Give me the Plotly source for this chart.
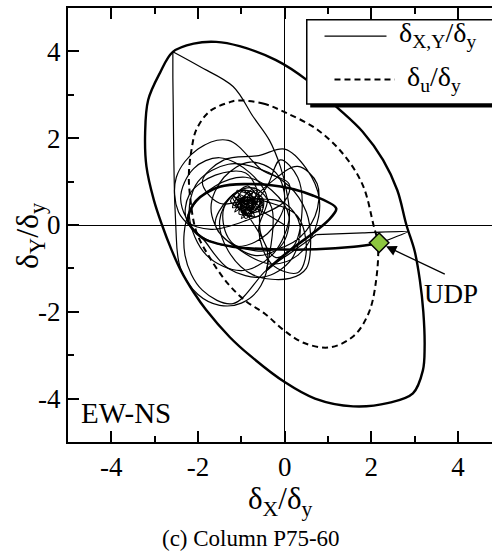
import plotly.graph_objects as go

FONT = "Liberation Serif"

# ---- data ----
# outer ultimate curve (thick solid, closed)
outer_x = [-1.58, -1.04, -0.2, 0.5, 1.19, 1.8, 2.27, 2.6, 2.81, 3.0, 3.12, 3.2, 3.23, 3.19, 2.96, 2.4, 1.58, 0.7, 0.0,
           -0.81, -1.27, -1.81, -2.1, -2.4, -2.62, -2.83, -3.02, -3.19, -3.22, -3.15, -2.88, -2.58, -2.1, -1.58]
outer_y = [4.22, 4.12, 3.8, 3.35, 2.73, 2.15, 1.5, 0.8, 0.0, -0.6, -1.27, -2.0, -2.81, -3.35, -3.88, -4.1, -4.18, -4.0,
           -3.62, -3.0, -2.58, -1.96, -1.55, -1.04, -0.55, 0.0, 0.58, 1.35, 2.12, 2.88, 3.5, 3.99, 4.18, 4.22]

# delta_u / delta_y curve (dashed, closed)
du_x = [-1.1, -0.5, 0.0, 0.75, 1.38, 1.81, 2.05, 2.15, 2.12, 1.95, 1.6, 1.04, 0.45, 0.0, -0.45, -0.9, -1.31, -1.73,
        -2.04, -2.19, -2.21, -2.15, -2.04, -1.73, -1.27, -1.1]
du_y = [2.87, 2.8, 2.6, 2.2, 1.6, 0.9, 0.0, -0.42, -1.2, -2.0, -2.55, -2.82, -2.72, -2.44, -2.05, -1.75, -1.35, -0.75,
        -0.15, 0.73, 1.19, 1.73, 2.19, 2.62, 2.83, 2.87]

# response trajectory delta_X,Y / delta_y (thin), split in pieces
# dense scribble around the centre
clu_x = [0.0, -0.5, -0.8, -1.1, -0.6, -0.95, -1.2, -0.55, -0.9, -1.05, -0.5, -0.85, -1.25, -0.7, -0.95, -1.15, -0.6,
         -0.75, -1.1, -0.5, -0.9, -1.2, -0.65, -0.85, -1.05, -0.55, -0.8, -1.15, -0.7, -1.0, -0.6, -0.9, -1.2,
         -0.75, -0.5, -1.0, -0.85, -0.65, -1.1, -0.9, -0.7, -0.95, -0.8]
clu_y = [0.0, 0.3, 0.45, 0.6, 0.3, 0.8, 0.4, 0.55, 0.15, 0.7, 0.4, 0.9, 0.55, 0.2, 0.6, 0.3, 0.7, 0.35, 0.8,
         0.5, 0.25, 0.65, 0.5, 0.75, 0.25, 0.35, 0.6, 0.45, 0.85, 0.15, 0.55, 0.4, 0.7, 0.3, 0.6, 0.5, 0.2,
         0.8, 0.45, 0.65, 0.55, 0.3, 0.35]

# medium loops of different shapes
traj_m_x = [-0.8, -0.4, -0.1, 0.3, 0.4, 0.2, -0.2, -0.55, -0.6, -0.9, -1.6, -2.2, -2.25, -1.7, -0.9, 0.0, 0.1,
            -0.5, -1.3, -2.0, -2.5, -2.45, -1.9, -1.3, -0.5, 0.15, 0.35, 0.0, -0.7, -1.5, -1.9, -1.4, -0.6,
            0.0, 0.5, 0.8, 0.7, 0.3, -0.3, -1.0, -1.6, -1.3, -0.9, -0.7, -1.0,
            -0.3, 0.3, 0.75, 0.7, 0.2, -0.6, -1.4, -1.7, -1.4, -0.8, -0.2, 0.0, -0.4, -1.1, -2.0, -2.4, -2.1,
            -1.5, -0.8, -0.4, -0.6, -0.3, 0.3, 0.5, 0.3, -0.3, -1.0,
            -0.4, -0.55, -1.0, -1.5, -2.0, -2.4, -2.5]
traj_m_y = [0.35, 0.9, 1.5, 1.1, 0.3, -0.5, -0.75, -0.2, 0.7, 1.2, 1.15, 0.7, 0.1, -0.1, 0.1, 0.55, 0.95,
            1.25, 1.95, 1.75, 1.1, 0.3, -0.3, -1.0, -1.2, -0.8, 0.0, 0.5, 0.6, 0.5, 1.0, 1.5, 1.6,
            1.75, 1.3, 0.6, -0.1, -0.7, -0.9, -0.6, 0.0, 0.6, 0.8, 0.5, 0.3,
            1.0, 1.35, 0.95, 0.2, -0.4, -0.6, -0.3, 0.4, 1.1, 1.45, 1.2, 0.5, -0.2, -0.5, -0.2, 0.6, 1.3,
            1.55, 1.2, 0.6, -0.1, -0.9, -1.1, -0.6, 0.2, 0.5, 0.6,
            -0.6, -1.4, -1.8, -1.85, -1.6, -1.0, -0.3]

traj_b_x = [-2.5, -2.54, -2.56, -2.57, -2.58, -2.58]
traj_b_y = [-0.3, 0.6, 1.6, 2.6, 3.4, 3.99]

traj_c_x = [-2.58, -1.96, -1.19, -0.73, -0.35, -0.1, 0.04, 0.1, -0.3, -1.0, -1.8, -2.2, -2.0, -1.3, -0.6, 0.1,
            0.5, 0.6, 0.5, 0.12, -0.73, -1.3, -1.5, -1.2, -0.7, -0.3, -0.42]
traj_c_y = [3.99, 3.65, 3.19, 2.5, 1.95, 1.35, 0.8, 0.1, -0.7, -1.05, -0.7, 0.2, 1.0, 1.4, 1.3, 0.9,
            0.3, -0.4, -1.0, -1.23, -1.15, -0.6, 0.1, 0.7, 0.85, 0.4, -1.04]

# bold part of the trajectory (up to the ultimate point)
bold_x = [-0.42, 0.1, 0.65, 1.0, 1.19, 0.65, -0.35, -1.5, -2.05, -2.23, -1.9, -1.2, -0.3, 0.73, 1.6, 2.18]
bold_y = [-1.04, -0.6, -0.19, 0.1, 0.38, 0.68, 0.92, 0.88, 0.55, 0.1, -0.3, -0.5, -0.56, -0.56, -0.5, -0.42]

traj_e_x = [2.18, 2.85, 1.8, 0.73]
traj_e_y = [-0.42, -0.15, -0.18, -0.22]

traj_f_x = [0.73, 0.2, -0.42, -1.19, -1.9, -2.3, -2.2, -1.6, -0.9, -0.3, 0.1, -0.1, -0.7, -1.3, -1.4, -1.0,
            -0.5, -0.6, -1.0, -0.9, -0.7, -0.85]
traj_f_y = [-0.22, -0.6, -1.04, -1.81, -1.5, -0.7, 0.3, 0.9, 1.1, 0.8, 0.2, -0.5, -0.7, -0.3, 0.4, 0.8,
            0.6, 0.2, 0.3, 0.55, 0.4, 0.35]

udp_x = [2.18]
udp_y = [-0.41]

x_ticks = [-4, -2, 0, 2, 4]
x_ticklabels = ["-4", "-2", "0", "2", "4"]
y_ticks = [-4, -2, 0, 2, 4]
y_ticklabels = ["-4", "-2", "0", "2", "4"]

fig = go.Figure()

thin = dict(color="black", width=1.2)
fig.add_trace(go.Scatter(x=outer_x, y=outer_y, mode="lines", line=dict(color="black", width=2.4, shape="spline", smoothing=1.0)))
fig.add_trace(go.Scatter(x=du_x, y=du_y, mode="lines", line=dict(color="black", width=2, dash="6px,4px", shape="spline", smoothing=1.0)))
fig.add_trace(go.Scatter(x=clu_x, y=clu_y, mode="lines", line=dict(thin, shape="spline", smoothing=0.7)))
for xs, ys in [(traj_m_x, traj_m_y), (traj_c_x, traj_c_y), (traj_f_x, traj_f_y)]:
    fig.add_trace(go.Scatter(x=xs, y=ys, mode="lines", line=dict(thin, shape="spline", smoothing=1.0)))
for xs, ys in [(traj_b_x, traj_b_y), (traj_e_x, traj_e_y)]:
    fig.add_trace(go.Scatter(x=xs, y=ys, mode="lines", line=dict(thin, shape="spline", smoothing=0.3)))
fig.add_trace(go.Scatter(x=bold_x, y=bold_y, mode="lines", line=dict(color="black", width=2.6, shape="spline", smoothing=0.9)))
fig.add_trace(go.Scatter(x=udp_x, y=udp_y, mode="markers",
                         marker=dict(symbol="diamond", size=15, color="#8DC63F", line=dict(color="black", width=1.5))))

# legend drawn by hand (box with shadow)
lx0, lx1, ly0, ly1 = 0.51, 5.2, 2.79, 4.73
shapes = [
    dict(type="rect", xref="x", yref="y", x0=lx0 + 0.08, x1=lx1 + 0.08, y0=ly0 - 0.08, y1=ly1 - 0.08,
         fillcolor="black", line=dict(width=0), layer="above"),
    dict(type="rect", xref="x", yref="y", x0=lx0, x1=lx1, y0=ly0, y1=ly1,
         fillcolor="white", line=dict(color="black", width=1.5), layer="above"),
    dict(type="line", xref="x", yref="y", x0=0.92, x1=2.35, y0=4.35, y1=4.35,
         line=dict(color="black", width=1.2), layer="above"),
    dict(type="line", xref="x", yref="y", x0=1.15, x1=2.54, y0=3.35, y1=3.35,
         line=dict(color="black", width=2, dash="6px,4px"), layer="above"),
]

annotations = [
    dict(x=2.6, y=4.38, xref="x", yref="y", text="δ<sub>X,Y</sub>/δ<sub>y</sub>", showarrow=False,
         xanchor="left", yanchor="middle", font=dict(family=FONT, size=28, color="black")),
    dict(x=2.78, y=3.38, xref="x", yref="y", text="δ<sub>u</sub>/δ<sub>y</sub>", showarrow=False,
         xanchor="left", yanchor="middle", font=dict(family=FONT, size=28, color="black")),
    dict(x=-4.75, y=-4.33, xref="x", yref="y", text="EW-NS", showarrow=False,
         xanchor="left", yanchor="middle", font=dict(family=FONT, size=29, color="black")),
    dict(x=3.85, y=-1.59, xref="x", yref="y", text="UDP", showarrow=False,
         xanchor="center", yanchor="middle", font=dict(family=FONT, size=27, color="black")),
    dict(x=2.34, y=-0.49, ax=3.73, ay=-1.15, xref="x", yref="y", axref="x", ayref="y", text="",
         showarrow=True, arrowhead=2, arrowsize=1.6, arrowwidth=1.3, arrowcolor="black"),
    dict(x=0.5, y=-0.137, xref="paper", yref="paper", text="δ<sub>X</sub>/δ<sub>y</sub>", showarrow=False,
         xanchor="center", yanchor="middle", font=dict(family=FONT, size=31, color="black")),
    dict(x=-0.089, y=0.475, xref="paper", yref="paper", text="δ<sub>Y</sub>/δ<sub>y</sub>", showarrow=False,
         textangle=-90, xanchor="center", yanchor="middle", font=dict(family=FONT, size=32, color="black")),
    dict(x=0.432, y=-0.222, xref="paper", yref="paper", text="(c) Column P75-60", showarrow=False,
         xanchor="center", yanchor="middle", font=dict(family=FONT, size=23, color="black")),
]

axis_common = dict(
    showgrid=False, zeroline=True, zerolinecolor="black", zerolinewidth=1.3,
    showline=True, linecolor="black", linewidth=2,
    ticks="inside", ticklen=11, tickwidth=1.5, tickcolor="black",
    minor=dict(dtick=1, ticks="inside", ticklen=6, tickwidth=1.5, tickcolor="black"),
    tickfont=dict(family=FONT, size=27, color="black"),
)

fig.update_xaxes(range=[-5, 4.785], tickvals=x_ticks, ticktext=x_ticklabels, mirror="ticks", **axis_common)
fig.update_yaxes(range=[-5, 5], tickvals=y_ticks, ticktext=y_ticklabels, mirror=False, **axis_common)

fig.update_layout(
    width=492, height=556,
    margin=dict(l=68, r=0, t=8, b=114),
    paper_bgcolor="white", plot_bgcolor="white",
    showlegend=False,
    shapes=shapes, annotations=annotations,
)

fig.write_html("out.html")
